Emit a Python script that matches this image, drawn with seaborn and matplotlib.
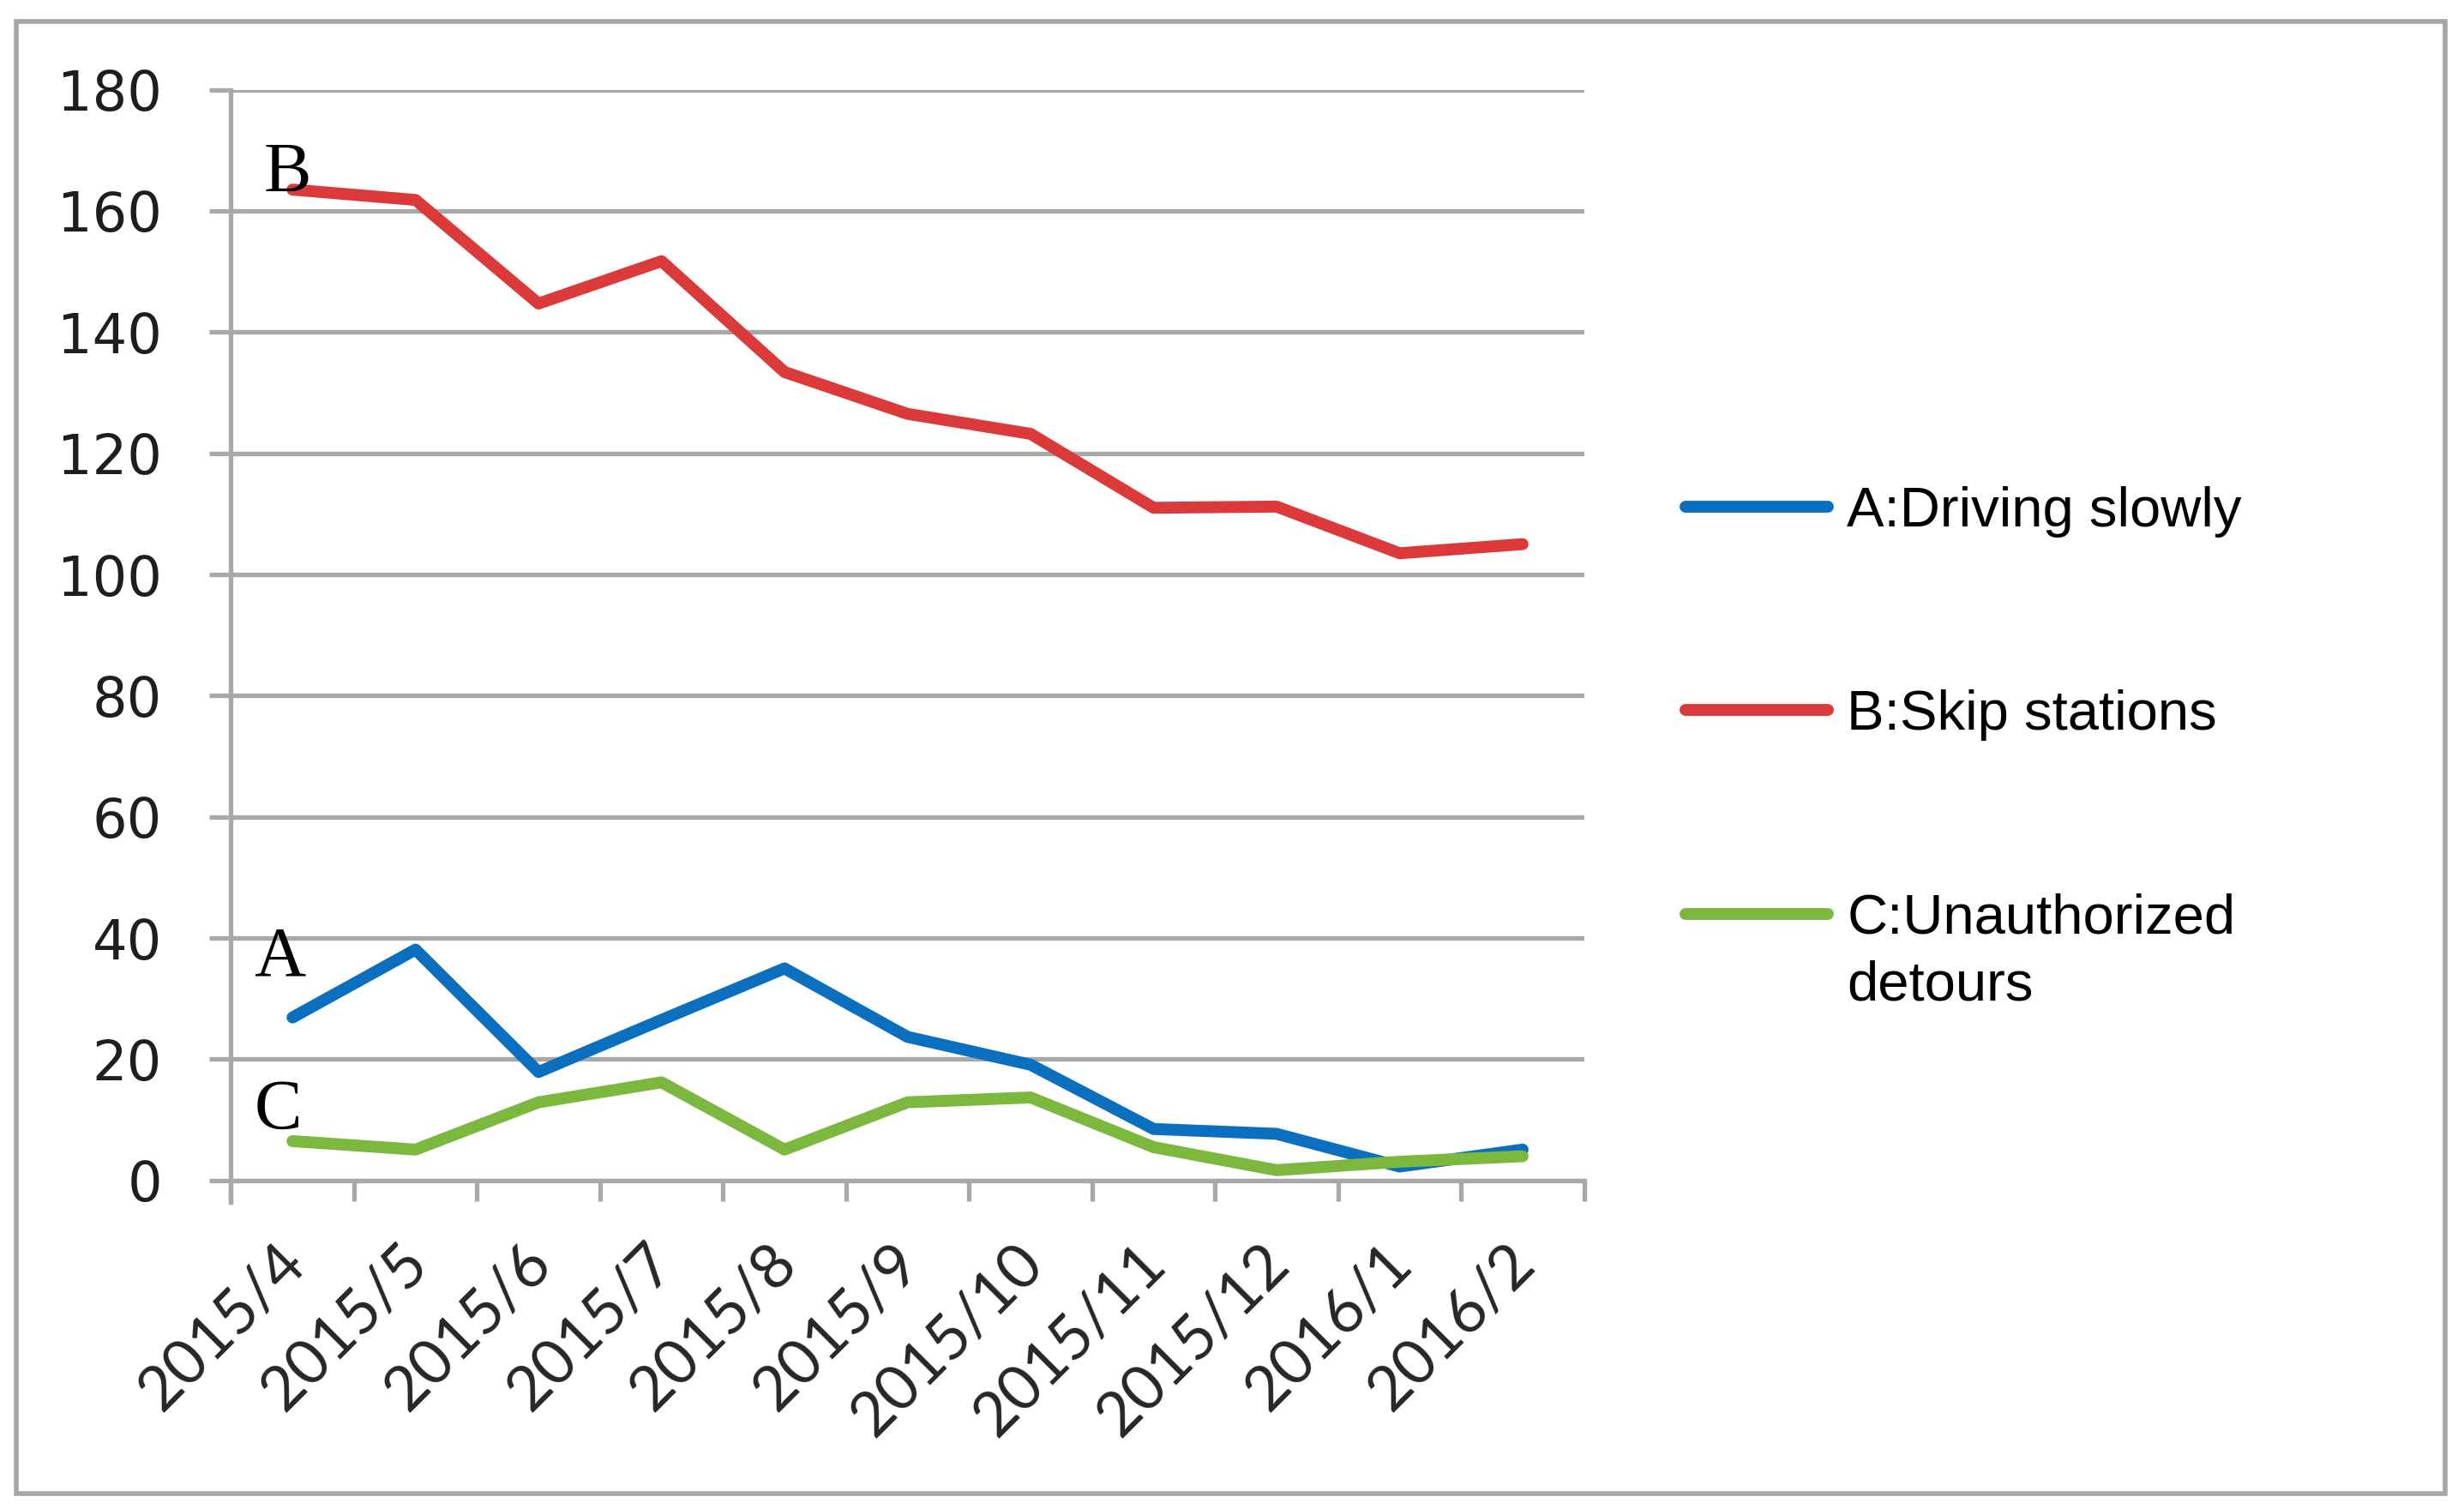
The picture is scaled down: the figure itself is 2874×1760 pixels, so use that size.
import matplotlib
matplotlib.use("Agg")
import matplotlib.pyplot as plt
from matplotlib.patches import Rectangle
from matplotlib.transforms import ScaledTranslation
from matplotlib import font_manager
import numpy as np
import pandas as pd
import seaborn as sns

# ---------------- data ----------------
months = ["2015/4", "2015/5", "2015/6", "2015/7", "2015/8", "2015/9",
          "2015/10", "2015/11", "2015/12", "2016/1", "2016/2"]
driving_slowly = [26.9, 38.1, 17.9, 26.5, 35.0, 23.7, 19.1, 8.5, 7.7, 2.3, 5.1]
skip_stations = [163.5, 161.8, 144.7, 151.7, 133.4, 126.5, 123.2, 111.0, 111.2, 103.5, 105.0]
unauthorized_detours = [6.5, 5.1, 12.9, 16.2, 5.1, 12.9, 13.7, 5.5, 1.7, 3.1, 4.0]
series_labels = ["A:Driving slowly", "B:Skip stations", "C:Unauthorized\ndetours"]
series_letters = ["A", "B", "C"]
y_ticks = [0, 20, 40, 60, 80, 100, 120, 140, 160, 180]

colors = {series_labels[0]: "#0b6fc0",
          series_labels[1]: "#dc3a3a",
          series_labels[2]: "#7bb83d"}

df = pd.DataFrame({
    "pos": np.tile(np.arange(len(months)), 3),
    "value": driving_slowly + skip_stations + unauthorized_detours,
    "series": np.repeat(series_labels, len(months)),
})

sns.set_theme(style="white")
plt.rcParams["font.family"] = ["DejaVu Sans"]

xfont = font_manager.FontProperties(family=["Lato", "DejaVu Sans"], size=26)

fig = plt.figure(figsize=(14.37, 8.8), dpi=200)
ax = fig.add_axes([0.09375, 0.2177, 0.6429 - 0.09375, 0.9406 - 0.2177])

LW = 5.0
sns.lineplot(data=df, x="pos", y="value", hue="series", hue_order=series_labels,
             palette=colors, linewidth=LW, ax=ax, legend=False, sort=False)

grid_c = "#a8a8a8"
ax.set_xlim(-0.5, len(months) - 0.5)
ax.set_ylim(0, 180)
ax.set_yticks(y_ticks)
ax.set_yticklabels([str(v) for v in y_ticks])
ax.yaxis.grid(True, color=grid_c, linewidth=1.9)
ax.xaxis.grid(False)
ax.set_axisbelow(True)
ax.set_xlabel("")
ax.set_ylabel("")

for s in ["top", "right"]:
    ax.spines[s].set_visible(False)
for s in ["left", "bottom"]:
    ax.spines[s].set_color(grid_c)
    ax.spines[s].set_linewidth(1.9)
ax.spines["left"].set_bounds(-3.6, 180)

# x ticks: labels at category centres, tick marks at boundaries
ax.set_xticks(np.arange(len(months)))
ax.set_xticks(np.arange(len(months) + 1) - 0.5, minor=True)
ax.set_xticklabels(months, rotation=45, ha="right", va="baseline",
                   rotation_mode="anchor", color="#262626")
ax.tick_params(axis="x", which="major", length=0, pad=36)
ax.tick_params(axis="x", which="minor", length=8.5, width=1.9, color=grid_c,
               direction="out", bottom=True)
ax.tick_params(axis="y", which="major", length=9, width=1.9, color=grid_c,
               direction="out", left=True, pad=20, labelsize=23,
               labelcolor="#1e1e1e")
offset = ScaledTranslation(0.09, 0, fig.dpi_scale_trans)
for lab in ax.get_xticklabels():
    lab.set_fontproperties(xfont)
    lab.set_rotation(45)
    lab.set_rotation_mode("anchor")
    lab.set_ha("right")
    lab.set_va("baseline")
    lab.set_transform(lab.get_transform() + offset)

# letters near the start of each series
first_vals = [driving_slowly[0], skip_stations[0], unauthorized_detours[0]]
letter_offsets = [(-5.4, 25), (-2, 6.5), (-6, 12.5)]
for letter, v, off in zip(series_letters, first_vals, letter_offsets):
    ax.annotate(letter, xy=(0, v), xytext=off, textcoords="offset points",
                ha="center", va="center", fontsize=30,
                fontfamily="Liberation Serif", color="black")

lines = ax.get_lines()[:3]
leg_fs = 23.5
leg = fig.legend(lines, series_labels, loc="upper left",
                 bbox_to_anchor=(0.684, 0.678), frameon=False,
                 prop={"family": "Liberation Sans", "size": leg_fs},
                 handlelength=2.54, handletextpad=0.35, labelspacing=2.72,
                 borderpad=0, borderaxespad=0)
for h in leg.legend_handles:
    h.set_linewidth(LW)
for t in leg.get_texts():
    t.set_color("black")
    t.set_linespacing(1.38)

# outer frame
fig.patches.append(Rectangle((0.0066, 0.0102), 0.9923 - 0.0066, 0.9858 - 0.0102,
                             transform=fig.transFigure, fill=False,
                             edgecolor="#a6a6a6", linewidth=2.0))

# align the multi-line entry's handle with its first text line
fig.canvas.draw()
r = fig.canvas.get_renderer()
tA = leg.get_texts()[0].get_window_extent(r)
hA = leg.legend_handles[0]
yA_line = hA.get_transform().transform((0, hA.get_ydata()[0]))[1]
offA = (tA.y0 + tA.y1) / 2 - yA_line  # handle vs text centre for single line
tC = leg.get_texts()[2].get_window_extent(r)
hC = leg.legend_handles[2]
yC_line = hC.get_transform().transform((0, hC.get_ydata()[0]))[1]
target = tC.y1 - tA.height / 2 - offA
delta_pts = (target - yC_line) * 72.0 / fig.dpi
hC.set_ydata(np.asarray(hC.get_ydata()) + delta_pts)

fig.savefig("out.png", dpi=200, facecolor="white")
